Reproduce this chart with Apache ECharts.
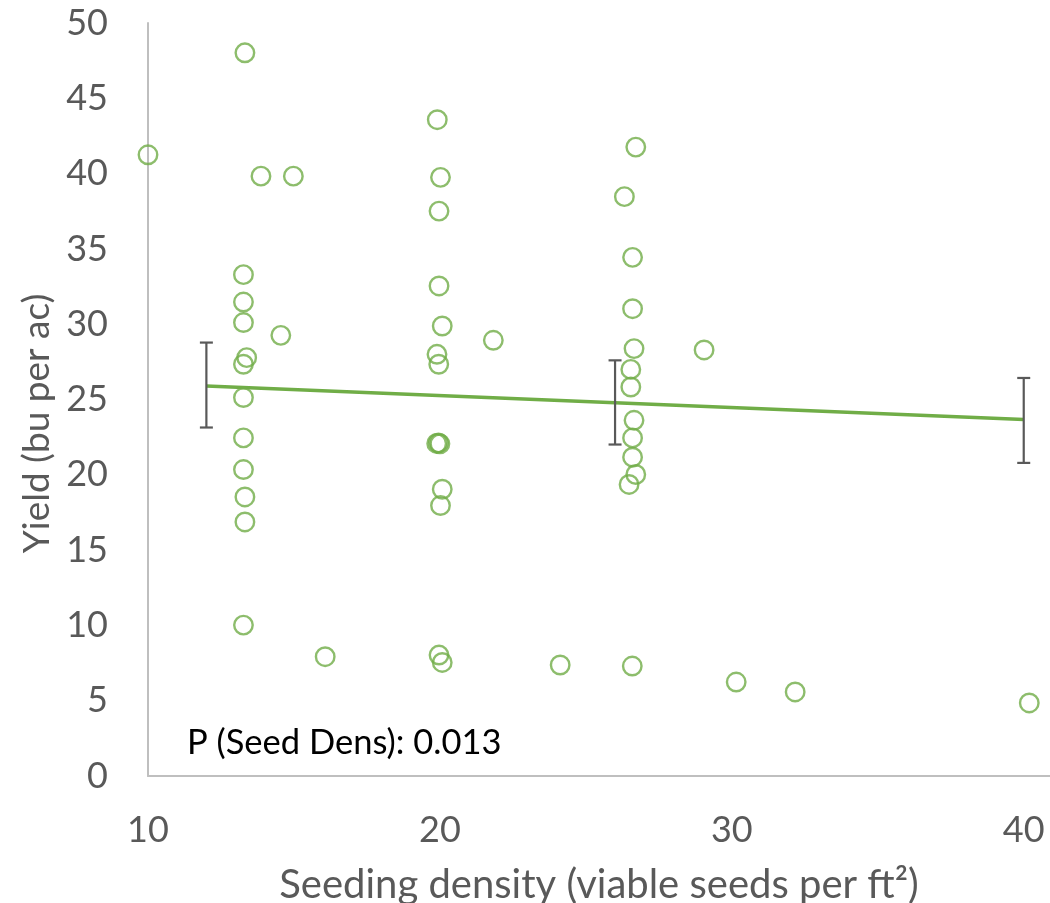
<!DOCTYPE html>
<html>
<head>
<meta charset="utf-8">
<script src="https://cdn.jsdelivr.net/npm/echarts@6/dist/echarts.min.js"></script>
<style>
html,body{margin:0;padding:0;background:#fff;}
#chart{width:1050px;height:903px;}
</style>
</head>
<body>
<div id="chart"></div>
<script>
// Observations: seeding density (viable seeds per ft2) and yield (bu per ac)
var seedDensity = [10.0, 13.32, 13.87, 14.98, 13.27, 13.27, 13.27, 14.55, 13.38, 13.27,
  13.27, 13.27, 13.27, 13.32, 13.32, 13.27, 16.07,
  19.91, 20.02, 19.97, 19.97, 20.08, 21.83, 19.90, 19.96, 19.89, 19.95, 20.0, 20.08, 20.02, 19.97, 20.08,
  26.71, 26.32, 26.6, 26.6, 26.65, 26.54, 26.54, 26.65, 26.6, 26.6, 26.71, 26.48, 29.05,
  24.12, 26.59, 30.15, 32.17, 40.19];
var yieldVals = [41.25, 48.02, 39.83, 39.83, 33.29, 31.47, 30.11, 29.26, 27.78, 27.34,
  25.13, 22.45, 20.35, 18.53, 16.87, 10.02, 7.92,
  43.58, 39.75, 37.51, 32.54, 29.88, 28.93, 28.0, 27.34, 22.08, 22.12, 22.06, 19.04, 17.96, 8.03, 7.54,
  41.76, 38.47, 34.44, 31.03, 28.38, 27.0, 25.83, 23.62, 22.45, 21.17, 20.02, 19.36, 28.29,
  7.37, 7.30, 6.24, 5.58, 4.85];

// Fitted line and error bars
var fitX = [12, 26, 40];
var fitY = [25.9, 24.78, 23.67];
var errLow = [23.14, 22.01, 20.79];
var errHigh = [28.78, 27.6, 26.43];

var xTicks = [10, 20, 30, 40];
var yTicks = [0, 5, 10, 15, 20, 25, 30, 35, 40, 45, 50];
var annotation = 'P (Seed Dens): 0.013';

var points = seedDensity.map(function (x, i) { return [x, yieldVals[i]]; });
var fitData = fitX.map(function (x, i) { return [x, fitY[i]]; });
var errData = fitX.map(function (x, i) { return [x, errLow[i], errHigh[i]]; });

var FONT = 'Lato';
var chart = echarts.init(document.getElementById('chart'), null, {renderer: 'canvas'});
chart.setOption({
  animation: false,
  backgroundColor: '#ffffff',
  grid: {left: 148, right: 0, top: 23, bottom: 127, containLabel: false, outerBoundsMode: 'none'},
  xAxis: {
    type: 'value', min: xTicks[0], max: 40.9, interval: 10,
    name: 'Seeding density (viable seeds per ft²)',
    nameLocation: 'middle', nameGap: 89,
    nameTextStyle: {fontFamily: FONT, fontSize: 40, color: '#595959'},
    axisLine: {show: true, lineStyle: {color: '#BFBFBF', width: 2}},
    axisTick: {show: false},
    splitLine: {show: false},
    axisLabel: {fontFamily: FONT, fontSize: 36, color: '#595959', margin: 36, showMaxLabel: false,
      formatter: function (v) { return xTicks.indexOf(v) >= 0 ? String(v) : ''; }}
  },
  yAxis: {
    type: 'value', min: yTicks[0], max: yTicks[yTicks.length - 1], interval: 5,
    name: 'Yield (bu per ac)',
    nameLocation: 'middle', nameGap: 92,
    nameTextStyle: {fontFamily: FONT, fontSize: 37, color: '#595959', padding: [0, 48, 0, 0]},
    axisLine: {show: true, lineStyle: {color: '#BFBFBF', width: 2}},
    axisTick: {show: false},
    splitLine: {show: false},
    axisLabel: {fontFamily: FONT, fontSize: 36, color: '#595959', margin: 40}
  },
  graphic: [{
    type: 'text', left: 187, top: 725,
    style: {text: annotation, fontFamily: FONT, fontSize: 34.5, fill: '#000000'}
  }],
  series: [
    {
      type: 'scatter', data: points, symbol: 'circle', symbolSize: 18.5,
      itemStyle: {color: 'rgba(0,0,0,0)', borderColor: '#70AD47', borderWidth: 2.4},
      z: 2
    },
    {
      type: 'line', data: fitData, showSymbol: false, symbol: 'none',
      lineStyle: {color: '#70AD47', width: 3.5}, z: 3
    },
    {
      type: 'custom', data: errData, z: 4,
      renderItem: function (params, api) {
        var x = api.value(0);
        var lo = api.coord([x, api.value(1)]);
        var hi = api.coord([x, api.value(2)]);
        var hw = 6.5;
        var st = {stroke: '#595959', lineWidth: 2.2};
        return {
          type: 'group',
          children: [
            {type: 'line', shape: {x1: lo[0], y1: lo[1], x2: hi[0], y2: hi[1]}, style: st},
            {type: 'line', shape: {x1: lo[0] - hw, y1: lo[1], x2: lo[0] + hw, y2: lo[1]}, style: st},
            {type: 'line', shape: {x1: hi[0] - hw, y1: hi[1], x2: hi[0] + hw, y2: hi[1]}, style: st}
          ]
        };
      }
    }
  ]
});
</script>
</body>
</html>
